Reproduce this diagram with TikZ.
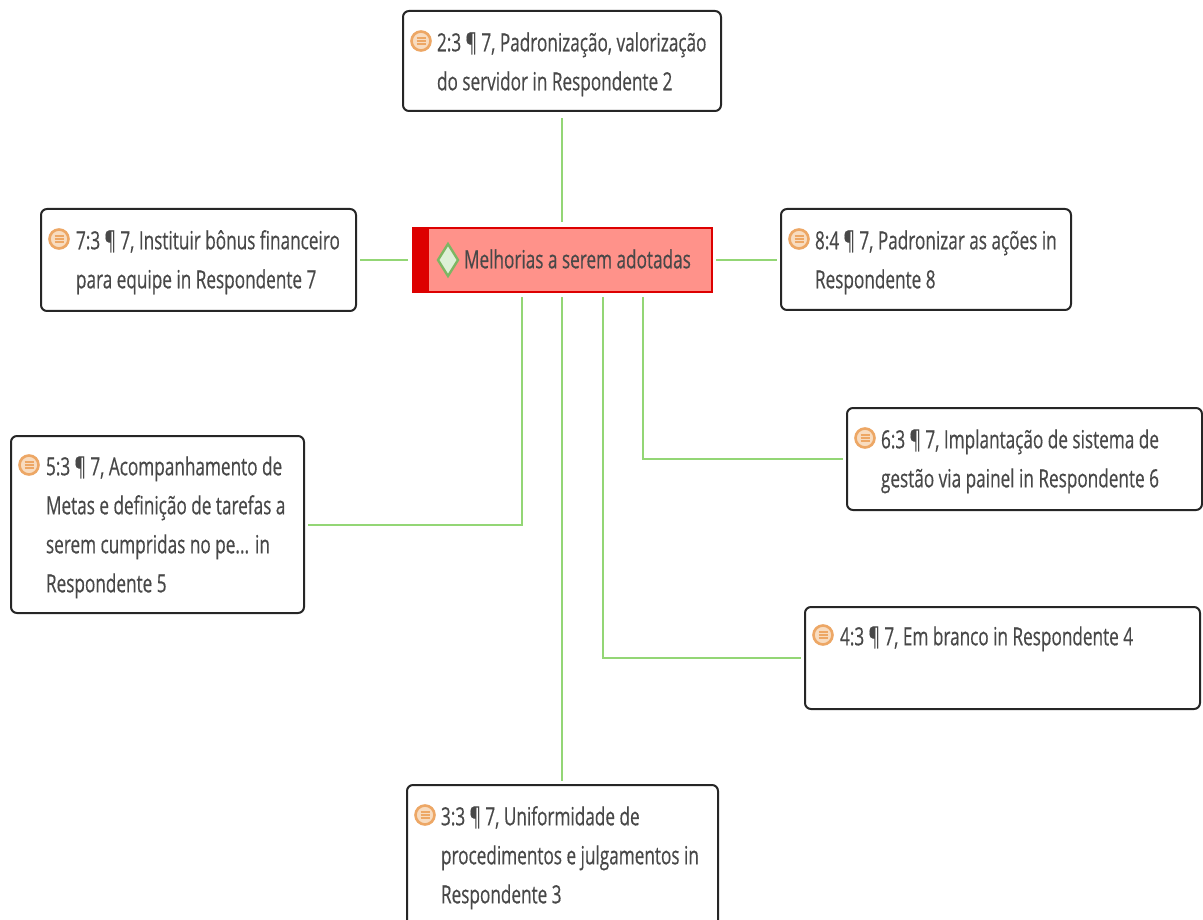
\documentclass[tikz,border=0pt]{standalone}
\usepackage{fontspec}
\usetikzlibrary{shapes.geometric,calc}
\newfontfamily\labfont[FakeStretch=0.687,FakeBold=0.4]{Open Sans}
\definecolor{linkg}{HTML}{93D675}
\definecolor{labc}{HTML}{484848}
\definecolor{iconO}{HTML}{EDA765}
\definecolor{iconF}{HTML}{F8DCC0}
\definecolor{redD}{HTML}{DD0000}
\definecolor{redF}{HTML}{FF928A}
\definecolor{diaF}{HTML}{DDF0D8}
\tikzset{
  quote/.style={draw=black!85,line width=2pt,rounded corners=6pt,fill=white,inner sep=0pt,outer sep=0pt},
  lab/.style={anchor=north west,inner sep=0pt,outer sep=0pt,align=left,text=labc,font=\labfont\fontsize{25}{39}\selectfont},
  link/.style={draw=linkg,line width=2pt,shorten >=4pt,shorten <=5pt},
  ico/.style={circle,draw=iconO,line width=2.6pt,fill=iconF,minimum size=19pt,inner sep=0pt}
}
\newcommand{\quotebox}[8]{%
  \node[quote,minimum width=#4pt-#2pt,minimum height=#5pt-#3pt,anchor=north west] (#1) at (#2,#3) {};
  \node[ico] (#1i) at (#2+18,#7-11) {};
  \draw[iconO,line width=1.4pt] ($(#1i)+(-4.5,3)$)--($(#1i)+(4.5,3)$) ($(#1i)+(-4.5,0)$)--($(#1i)+(4.5,0)$) ($(#1i)+(-4.5,-3)$)--($(#1i)+(4.5,-3)$);
  \node[lab] (#1t) at (#6,#7-28) {\strut #8};
}
\begin{document}
\begin{tikzpicture}[x=1pt,y=-1pt]
\useasboundingbox (0,0) rectangle (1203,920);
\clip (0,0) rectangle (1203,920);
% central topic
\node[rectangle,draw=redD,line width=1.5pt,fill=redF,minimum width=299pt,minimum height=64pt,anchor=north west,inner sep=0pt,outer sep=0pt] (c) at (413,228) {};
\fill[redD] (c.north west) rectangle ($(c.south west)+(16,0)$);
\node[diamond,draw=linkg!85!black,line width=2.4pt,fill=diaF,minimum width=21pt,minimum height=33pt,inner sep=0pt] (cd) at (448,260) {};
\node[lab] (ct) at (464,269-28) {\strut Melhorias a serem adotadas};
\coordinate (c5) at (522,292);
\coordinate (c3) at (562,292);
\coordinate (c2) at (562,228);
\coordinate (c4) at (603,292);
\coordinate (c6) at (643,292);
% quotations
\quotebox{n2}{403}{11}{721}{111}{437}{52}{2:3 ¶ 7, Padronização, valorização\\do servidor in Respondente 2}
\quotebox{n7}{41}{209}{356}{311}{76}{250}{7:3 ¶ 7, Instituir bônus financeiro\\para equipe in Respondente 7}
\quotebox{n8}{781}{209}{1071}{310}{815}{250}{8:4 ¶ 7, Padronizar as ações in\\Respondente 8}
\quotebox{n6}{847}{408}{1202}{510}{881}{449}{6:3 ¶ 7, Implantação de sistema de\\gestão via painel in Respondente 6}
\quotebox{n5}{11}{436}{304}{613}{46}{476}{5:3 ¶ 7, Acompanhamento de\\Metas e definição de tarefas a\\serem cumpridas no pe... in\\Respondente 5}
\quotebox{n4}{805}{607}{1200}{709}{840}{646}{4:3 ¶ 7, Em branco in Respondente 4}
\quotebox{n3}{407}{785}{718}{930}{441}{826}{3:3 ¶ 7, Uniformidade de\\procedimentos e julgamentos in\\Respondente 3}
% connectors
\draw[link,shorten >=7pt,shorten <=6pt] (c2) -- (c2 |- n2.south);
\draw[link] (c3) -- (c3 |- n3.north);
\draw[link] (c.west |- 0,260) -- (n7.east |- 0,260);
\draw[link,shorten <=4pt] (c.east) -- (c.east -| n8.west);
\draw[link] (c5) |- (n5.east);
\draw[link] (c4) |- (n4.west);
\draw[link] (c6) |- (n6.west);
\end{tikzpicture}
\end{document}
